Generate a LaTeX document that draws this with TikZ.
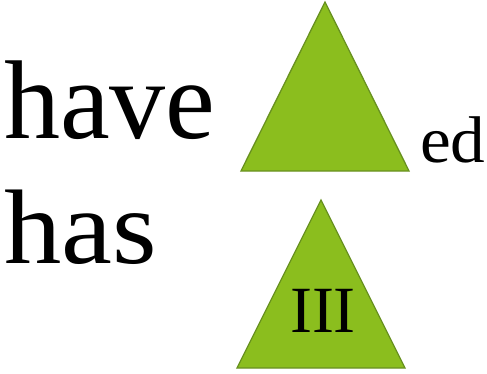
\documentclass[tikz,border=0pt]{standalone}
\usepackage{fontspec}
\setmainfont{Liberation Serif}
\definecolor{trifill}{RGB}{139,190,30}
\definecolor{tridraw}{RGB}{104,145,32}
\begin{document}
\begin{tikzpicture}[x=1pt,y=-1pt,
  tri/.style={fill=trifill,draw=tridraw,line width=1.3pt,line join=miter},
  word/.style={inner sep=0pt,anchor=base west,text=black}]
\useasboundingbox (0,0) rectangle (487,373);
\coordinate (t1a) at (325,2);
\coordinate (t1l) at (241,171);
\coordinate (t1r) at (409,171);
\coordinate (t2a) at (321,200);
\coordinate (t2l) at (237,368);
\coordinate (t2r) at (405,368);
\draw[tri] (t1a) -- (t1r) -- (t1l) -- cycle;
\draw[tri] (t2a) -- (t2r) -- (t2l) -- cycle;
\node[word] (have) at (4,138) {\fontsize{112}{112}\selectfont have};
\node[word] (has) at (4,263) {\scalebox{1.08}[1]{\fontsize{106}{106}\selectfont has}};
\node[word] (ed) at (420,162) {\scalebox{1.05}[1]{\fontsize{66}{66}\selectfont ed}};
\node[inner sep=0pt,anchor=base] (iii) at (323,332) {\fontsize{66}{66}\selectfont III};
\end{tikzpicture}
\end{document}
